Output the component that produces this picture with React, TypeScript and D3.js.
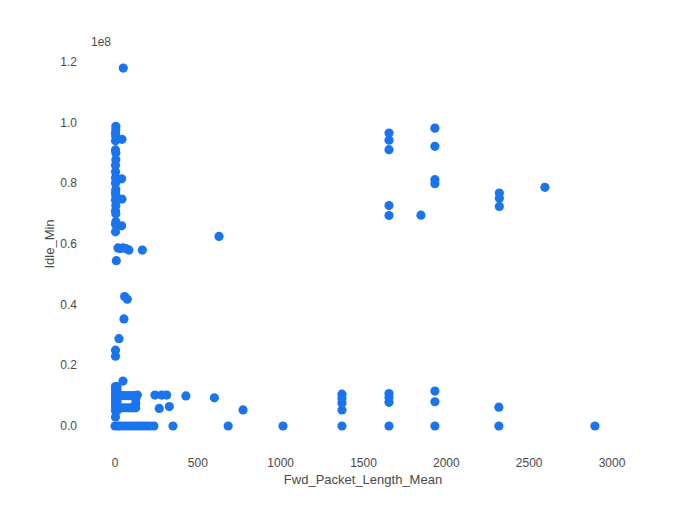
import React from "react";
import * as d3 from "d3";

// Fwd_Packet_Length_Mean, Idle_Min (in units of 1e8)
const upperLeft: [number, number][] = [
  [50, 1.18],
  [5, 0.988], [5, 0.977], [3, 0.965], [5, 0.955], [3, 0.94], [42, 0.945], [3, 0.91], [5, 0.9],
  [5, 0.878], [3, 0.86], [3, 0.838], [3, 0.818], [40, 0.815], [3, 0.8], [5, 0.78], [3, 0.77],
  [5, 0.76], [3, 0.745], [42, 0.748], [5, 0.727], [3, 0.71], [5, 0.7], [5, 0.673], [3, 0.665],
  [40, 0.66], [3, 0.64],
  [18, 0.587], [30, 0.585], [48, 0.587], [66, 0.585], [84, 0.58], [165, 0.58], [8, 0.545],
  [58, 0.427], [74, 0.418], [54, 0.353], [24, 0.288], [3, 0.25], [3, 0.23], [48, 0.148],
];

const rightHigh: [number, number][] = [
  [628, 0.625], [1654, 0.966], [1654, 0.942], [1654, 0.911], [1654, 0.727], [1654, 0.694],
  [1847, 0.695], [1931, 0.982], [1931, 0.922], [1931, 0.812], [1931, 0.799],
  [2320, 0.768], [2320, 0.751], [2320, 0.724], [2595, 0.787],
];

const rightLow: [number, number][] = [
  [1370, 0.105], [1370, 0.091], [1370, 0.076], [1370, 0.053], [1370, 0],
  [1654, 0.107], [1654, 0.094], [1654, 0.078], [1654, 0],
  [1931, 0.115], [1931, 0.08], [1931, 0], [2317, 0.062], [2317, 0], [2897, 0],
  [1014, 0], [683, 0], [773, 0.053], [600, 0.093], [428, 0.099], [350, 0],
  [241, 0.102], [282, 0.102], [312, 0.102], [267, 0.058], [328, 0.064],
];

const lowLeft: [number, number][] = [
  [3, 0.13], [12, 0.13], [3, 0.12], [12, 0.12], [3, 0.11], [12, 0.11], [3, 0.1], [12, 0.1],
  [3, 0.09], [12, 0.09], [3, 0.08], [12, 0.08], [3, 0.07], [12, 0.07], [3, 0.06], [12, 0.06],
  [3, 0.05], [12, 0.05], [3, 0.03],
  [20, 0.1], [40, 0.1], [60, 0.1], [80, 0.1], [100, 0.1], [120, 0.1], [135, 0.102],
  [125, 0.09], [125, 0.075],
  [25, 0.06], [45, 0.06], [65, 0.06], [85, 0.06], [105, 0.06], [125, 0.06],
  [0, 0], [15, 0], [30, 0], [50, 0], [70, 0], [90, 0], [110, 0], [130, 0], [150, 0],
  [170, 0], [190, 0], [210, 0], [235, 0],
];

const xTicks = [0, 500, 1000, 1500, 2000, 2500, 3000];
const yTicks = [0, 0.2, 0.4, 0.6, 0.8, 1.0, 1.2];

const W = 692;
const H = 516;
const color = "#1a74ee";
const textColor = "#4a4a4a";
const font = "Liberation Sans, Arial, sans-serif";

export default function App() {
  const x = d3.scaleLinear().domain([0, 3000]).range([115, 612]);
  const y = d3.scaleLinear().domain([0, 1.2]).range([426, 62]);
  const all = [...upperLeft, ...rightHigh, ...rightLow, ...lowLeft];
  return (
    <svg
      width={W}
      height={H}
      style={{ position: "absolute", left: 0, top: 0, background: "#fff" }}
      fontFamily={font}
    >
      <rect width={W} height={H} fill="#fff" />
      {all.map(([a, b], i) => (
        <circle key={i} cx={x(a)} cy={y(b)} r={4.6} fill={color} />
      ))}
      {xTicks.map((t) => (
        <text key={t} x={x(t)} y={467} textAnchor="middle" fontSize={12} fill={textColor}>
          {t}
        </text>
      ))}
      {yTicks.map((t) => (
        <text key={t} x={77} y={y(t) + 4} textAnchor="end" fontSize={12} fill={textColor}>
          {t.toFixed(1)}
        </text>
      ))}
      <text x={91} y={46} fontSize={12} fill={textColor}>1e8</text>
      <text x={363} y={484} textAnchor="middle" fontSize={13} fill={textColor}>
        Fwd_Packet_Length_Mean
      </text>
      <text
        transform={`translate(54, 244) rotate(-90)`}
        textAnchor="middle"
        fontSize={13}
        fill={textColor}
      >
        Idle_Min
      </text>
    </svg>
  );
}
